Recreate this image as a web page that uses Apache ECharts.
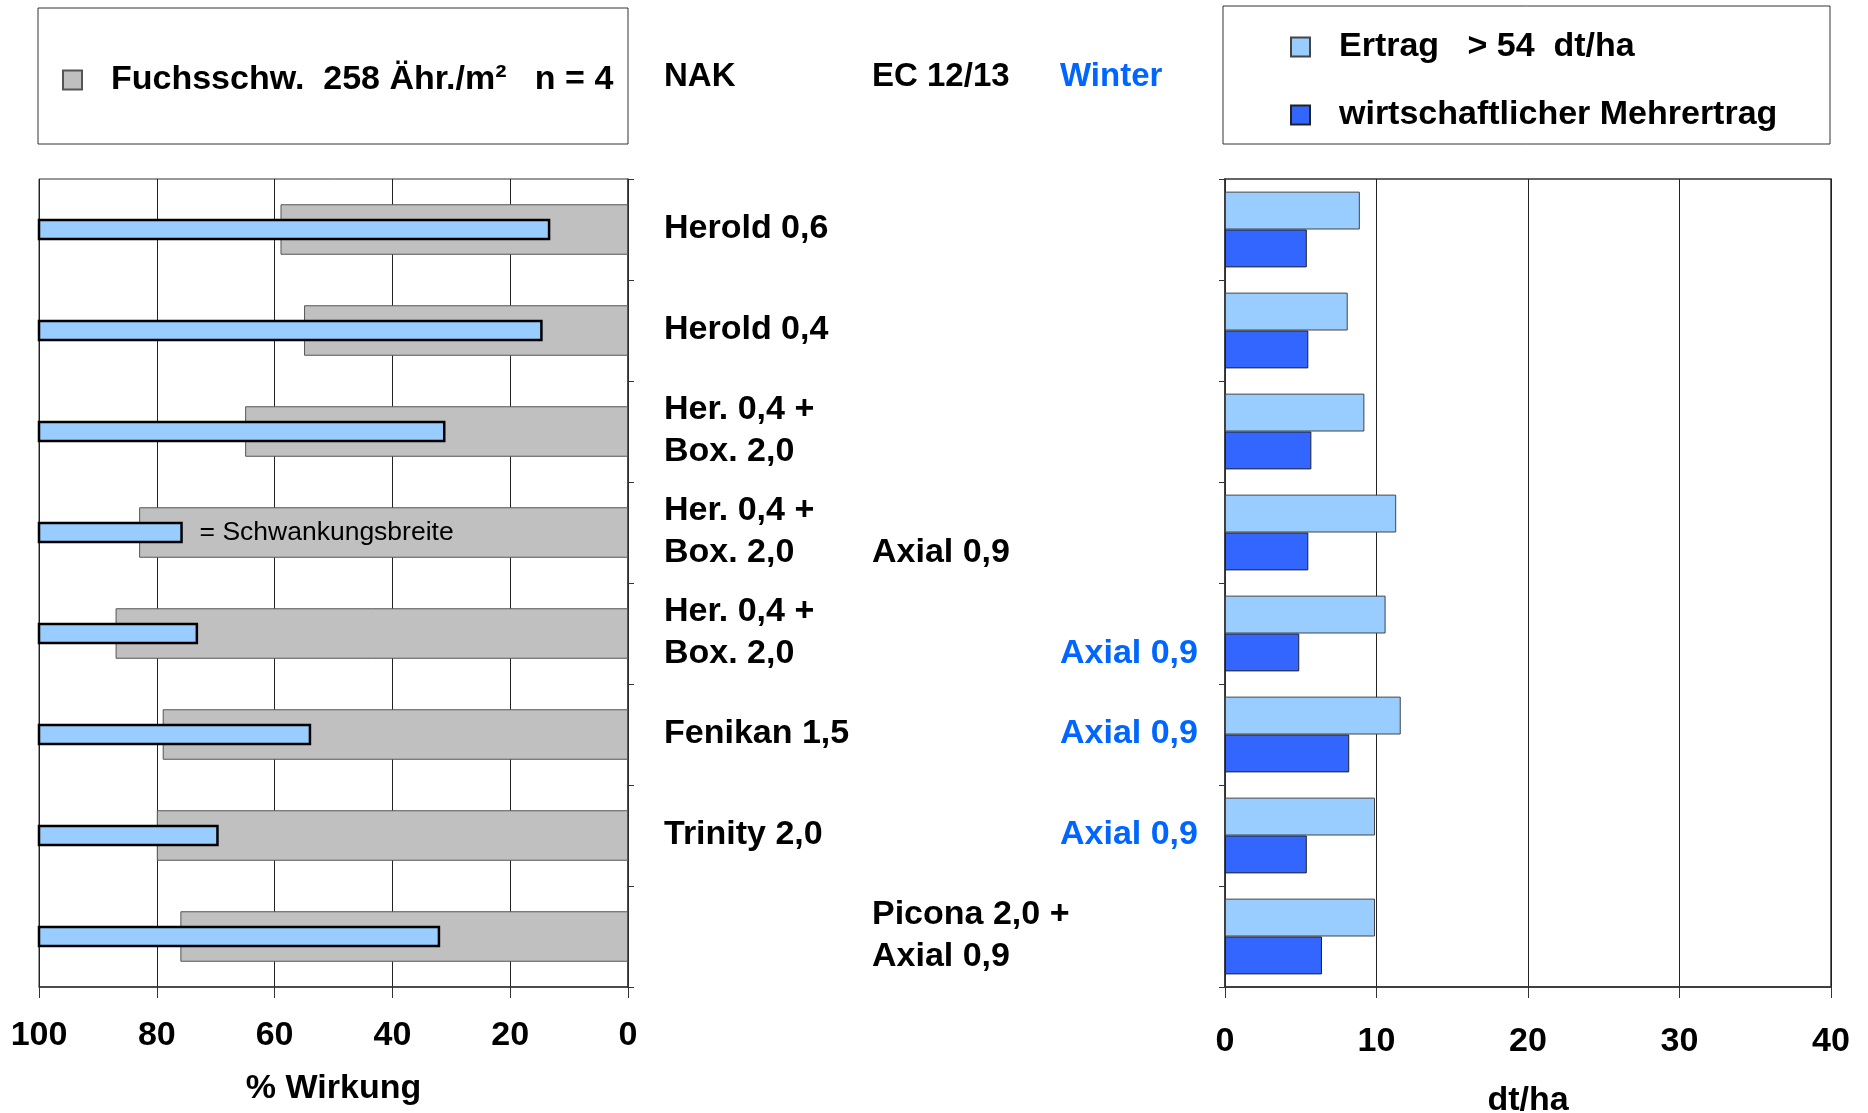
<!DOCTYPE html>
<html>
<head>
<meta charset="utf-8">
<title>Fuchsschwanz Wirkung und Ertrag</title>
<style>
  html, body { margin: 0; padding: 0; background: #fff; }
  #chart { width: 1868px; height: 1113px; }
</style>
<script src="https://cdn.jsdelivr.net/npm/echarts@6/dist/echarts.min.js"></script>
</head>
<body>
<div id="chart"></div>
<script>
// --- data ---
const categories = [
  'Herold 0,6',
  'Herold 0,4',
  'Her. 0,4 + Box. 2,0',
  'Her. 0,4 + Box. 2,0 / Axial 0,9 EC 12/13',
  'Her. 0,4 + Box. 2,0 / Axial 0,9 Winter',
  'Fenikan 1,5 / Axial 0,9 Winter',
  'Trinity 2,0 / Axial 0,9 Winter',
  'Picona 2,0 + Axial 0,9 EC 12/13'
]
// text columns between the two charts (NAK / EC 12/13 / Winter)
const colNak = ['Herold 0,6', 'Herold 0,4', 'Her. 0,4 +\nBox. 2,0', 'Her. 0,4 +\nBox. 2,0', 'Her. 0,4 +\nBox. 2,0', 'Fenikan 1,5', 'Trinity 2,0', '']
const colEc = ['', '', '', '\nAxial 0,9', '', '', '', 'Picona 2,0 +\nAxial 0,9']
const colWinter = ['', '', '', '', '\nAxial 0,9', 'Axial 0,9', 'Axial 0,9', '']
const headers = ['NAK', 'EC 12/13', 'Winter']

// % Wirkung: mean (grey) and range (blue, min..max)
const wirkungMittel = [59, 55, 65, 83, 87, 79, 80, 76]
const wirkungMin = [13.4, 14.7, 31.2, 75.8, 73.2, 54, 69.7, 32.1]
const wirkungMax = [100, 100, 100, 100, 100, 100, 100, 100]
const rangeNote = ['', '', '', '= Schwankungsbreite', '', '', '', '']

// dt/ha
const ertrag = [8.9, 8.1, 9.2, 11.3, 10.6, 11.6, 9.9, 9.9]
const mehrertrag = [5.4, 5.5, 5.7, 5.5, 4.9, 8.2, 5.4, 6.4]

const xTicksLeft = { min: 0, max: 100, interval: 20 }
const xTicksRight = { min: 0, max: 40, interval: 10 }

const nameGrey = 'Fuchsschw.  258 Ähr./m²   n = 4'
const nameErtrag = 'Ertrag   > 54  dt/ha'
const nameMehr = 'wirtschaftlicher Mehrertrag'

// --- styling ---
const FONT = "'Liberation Sans', Arial, Helvetica, sans-serif"
const BLUE_TXT = '#0066ff'
const boldText = { fontFamily: FONT, fontWeight: 'bold', fontSize: 34, color: '#000' }

const chart = echarts.init(document.getElementById('chart'))

function legendBlock(name, left, top) {
  return {
    data: [name],
    left: left,
    top: top,
    padding: 0,
    icon: 'rect',
    itemWidth: 19,
    itemHeight: 19,
    selectedMode: false,
    formatter: '{t|{name}}',
    textStyle: {
      rich: {
        t: { fontFamily: FONT, fontWeight: 'bold', fontSize: 34, lineHeight: 34, color: '#000', padding: [0, 0, 0, 24] }
      }
    }
  }
}

function valueAxis(grid, ticks, inverse, name, nameGap, margin) {
  return {
    type: 'value',
    gridIndex: grid,
    inverse: inverse,
    min: ticks.min,
    max: ticks.max,
    interval: ticks.interval,
    name: name,
    nameLocation: 'middle',
    nameGap: nameGap,
    nameTextStyle: boldText,
    axisLine: { show: true, lineStyle: { color: '#333', width: 1.5 } },
    axisTick: { show: true, length: 11, lineStyle: { color: '#333' } },
    axisLabel: Object.assign({ margin: margin }, boldText),
    splitLine: { show: true, lineStyle: { color: '#222', width: 1 } }
  }
}

function catAxis(grid, position) {
  return {
    type: 'category',
    gridIndex: grid,
    data: categories,
    inverse: true,
    position: position,
    axisLine: { show: true, lineStyle: { color: '#333', width: 1.5 } },
    axisTick: { show: true, length: 6, lineStyle: { color: '#333' } },
    axisLabel: { show: false }
  }
}

const option = {
  backgroundColor: '#fff',
  animation: false,
  textStyle: { fontFamily: FONT },
  legend: [
    legendBlock(nameGrey, 62, 63),
    legendBlock(nameErtrag, 1290, 30),
    legendBlock(nameMehr, 1290, 98)
  ],
  grid: [
    { left: 39, top: 179, width: 589, height: 808, show: true, borderColor: '#333', borderWidth: 1, outerBoundsMode: 'none' },
    { left: 1225, top: 179, width: 606, height: 808, show: true, borderColor: '#333', borderWidth: 1.5, outerBoundsMode: 'none' }
  ],
  xAxis: [
    valueAxis(0, xTicksLeft, true, '% Wirkung', 85, 32),
    valueAxis(1, xTicksRight, false, 'dt/ha', 97, 38)
  ],
  yAxis: [catAxis(0, 'right'), catAxis(1, 'left')],
  series: [
    {
      name: nameGrey,
      type: 'bar',
      xAxisIndex: 0,
      yAxisIndex: 0,
      data: wirkungMittel,
      barWidth: '50%',
      itemStyle: { color: '#c0c0c0', borderColor: '#555', borderWidth: 1 },
      z: 2
    },
    {
      name: 'Schwankungsbreite',
      type: 'custom',
      xAxisIndex: 0,
      yAxisIndex: 0,
      data: wirkungMin.map((m, i) => [m, wirkungMax[i], i]),
      encode: { x: [0, 1], y: 2 },
      z: 3,
      renderItem: function (params, api) {
        const i = api.value(2)
        const a = api.coord([api.value(1), i])
        const b = api.coord([api.value(0), i])
        const h = api.size([0, 1])[1] * 0.19
        const x0 = Math.min(a[0], b[0])
        const x1 = Math.max(a[0], b[0])
        const children = [{
          type: 'rect',
          shape: { x: x0, y: a[1] - h / 2, width: x1 - x0, height: h },
          style: { fill: '#99ccff', stroke: '#000', lineWidth: 2.5 }
        }]
        if (rangeNote[i]) {
          children.push({
            type: 'text',
            style: {
              x: x1 + 18, y: a[1], text: rangeNote[i],
              font: '26.5px ' + FONT, fill: '#000', verticalAlign: 'middle'
            }
          })
        }
        return { type: 'group', children: children }
      }
    },
    {
      name: nameErtrag,
      type: 'bar',
      xAxisIndex: 1,
      yAxisIndex: 1,
      data: ertrag,
      barGap: 0,
      barCategoryGap: '25%',
      itemStyle: { color: '#99ccff', borderColor: '#444', borderWidth: 1 }
    },
    {
      name: nameMehr,
      type: 'bar',
      xAxisIndex: 1,
      yAxisIndex: 1,
      data: mehrertrag,
      barGap: 0,
      barCategoryGap: '25%',
      itemStyle: { color: '#3366ff', borderColor: '#222', borderWidth: 1 }
    }
  ]
}

chart.setOption(option)

// boxes, headers and treatment texts placed on the category axis
const graphics = [
  { type: 'rect', shape: { x: 38, y: 8, width: 590, height: 136 }, style: { fill: 'none', stroke: '#333', lineWidth: 1 } },
  { type: 'rect', shape: { x: 1223, y: 6, width: 607, height: 138 }, style: { fill: 'none', stroke: '#333', lineWidth: 1 } }
]
const colX = [664, 872, 1060]
const headerColors = ['#000', '#000', BLUE_TXT]
headers.forEach((t, k) => {
  graphics.push({
    type: 'text',
    style: { x: colX[k], y: 77, text: t, font: 'bold 33px ' + FONT, fill: headerColors[k], verticalAlign: 'middle' }
  })
})
const columns = [colNak, colEc, colWinter]
categories.forEach((c, i) => {
  const y = chart.convertToPixel({ yAxisIndex: 0 }, c)
  columns.forEach((col, k) => {
    if (!col[i]) return
    graphics.push({
      type: 'text',
      style: {
        x: colX[k], y: y - 1, text: col[i],
        font: 'bold 34px ' + FONT, lineHeight: 42,
        fill: k === 2 ? BLUE_TXT : '#000', verticalAlign: 'middle'
      }
    })
  })
})
chart.setOption({ graphic: graphics })

window.addEventListener('resize', () => chart.resize())
</script>
</body>
</html>
